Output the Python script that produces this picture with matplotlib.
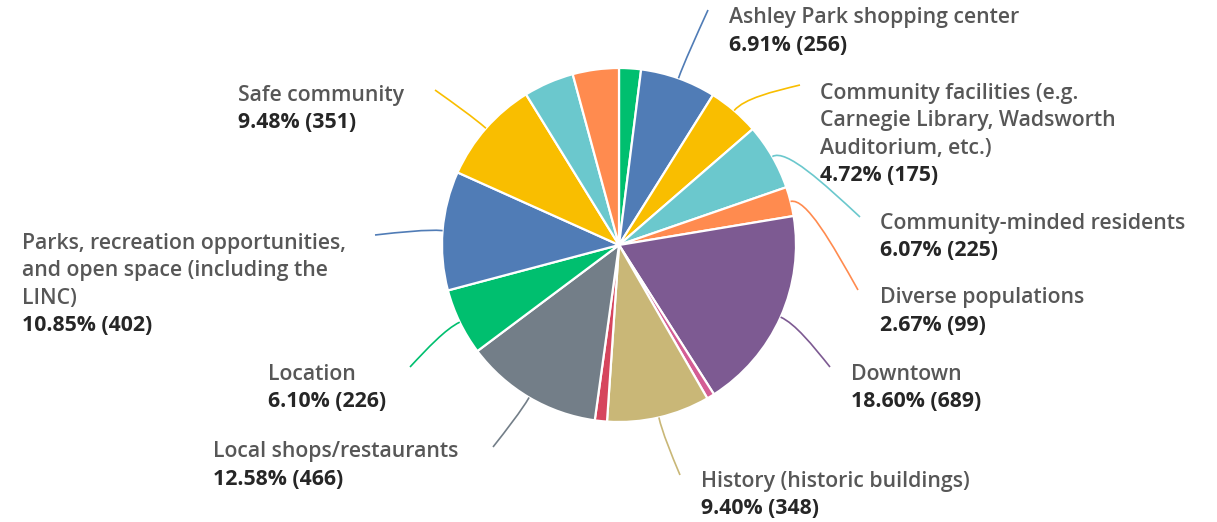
import numpy as np
import matplotlib
matplotlib.use("Agg")
import matplotlib.pyplot as plt
from matplotlib.path import Path
from matplotlib.patches import PathPatch

W, H = 1217, 522

# Survey answers, clockwise from 12 o'clock
categories = [
    "Other A",
    "Ashley Park shopping center",
    "Community facilities (e.g. Carnegie Library, Wadsworth Auditorium, etc.)",
    "Community-minded residents",
    "Diverse populations",
    "Downtown",
    "Other B",
    "History (historic buildings)",
    "Other C",
    "Local shops/restaurants",
    "Location",
    "Parks, recreation opportunities, and open space (including the LINC)",
    "Safe community",
    "Other D",
    "Other E",
]
counts = [74, 256, 175, 225, 99, 689, 26, 348, 41, 466, 226, 402, 351, 170, 156]
colors = ["#00bf6f", "#507cb6", "#f9be00", "#6bc8cd", "#ff8b4f", "#7d5a92",
          "#d45d94", "#c9b777", "#d6455d", "#737e88", "#00bf6f", "#507cb6",
          "#f9be00", "#6bc8cd", "#ff8b4f"]

# Wrapped label text for the labelled slices
label_lines = {
    1: ["Ashley Park shopping center"],
    2: ["Community facilities (e.g.", "Carnegie Library, Wadsworth", "Auditorium, etc.)"],
    3: ["Community-minded residents"],
    4: ["Diverse populations"],
    5: ["Downtown"],
    7: ["History (historic buildings)"],
    9: ["Local shops/restaurants"],
    10: ["Location"],
    11: ["Parks, recreation opportunities,", "and open space (including the", "LINC)"],
    12: ["Safe community"],
}
# label anchor: (x of text, y of first line), leader end point
label_pos = {
    1: (729, 18, (708, 10)),
    2: (820, 93, (800, 85)),
    3: (880, 223, (860, 217)),
    4: (880, 298, (858, 290)),
    5: (851, 374, (830, 367)),
    7: (701, 481, (680, 475)),
    9: (213, 452, (493, 447)),
    10: (268, 374, (410, 367)),
    11: (22, 243, (375, 235)),
    12: (238, 95, (435, 90)),
}

cx, cy, R = 619, 245, 177
line_h = 27.6

fig = plt.figure(figsize=(W / 100, H / 100), dpi=100)
ax = fig.add_axes([0, 0, 1, 1])

ax.pie(counts, colors=colors, startangle=90, counterclock=False,
       center=(cx, H - cy), radius=R,
       wedgeprops=dict(edgecolor="white", linewidth=1.6))
ax.set_xlim(0, W)
ax.set_ylim(0, H)
ax.set_aspect("equal")
ax.axis("off")

total = sum(counts)
cum = np.cumsum([0] + counts)
font = ["Open Sans", "DejaVu Sans"]

for i, lines in label_lines.items():
    mid = (cum[i] + cum[i + 1]) / 2 / total * 2 * np.pi
    dx, dy = np.sin(mid), np.cos(mid)
    p0 = (cx + R * dx, H - (cy - R * dy))
    p1 = (cx + (R + 16) * dx, H - (cy - (R + 16) * dy))
    tx, ty, end = label_pos[i]
    p3 = (end[0], H - end[1])
    p2 = ((p1[0] + p3[0]) / 2, (p1[1] + p3[1]) / 2)
    path = Path([p0, p1, p2, p3], [Path.MOVETO, Path.CURVE4, Path.CURVE4, Path.CURVE4])
    ax.add_patch(PathPatch(path, facecolor="none", edgecolor=colors[i], linewidth=1.2))

    pct = counts[i] / total * 100
    all_lines = lines + [f"{pct:.2f}% ({counts[i]})"]
    for k, txt in enumerate(all_lines):
        is_val = k == len(all_lines) - 1
        ax.text(tx, H - (ty + k * line_h), txt, ha="left", va="center",
                fontsize=15.3, family=font,
                color="#262626" if is_val else "#575757",
                fontweight="bold" if is_val else "semibold")

fig.savefig("out.png", dpi=100, facecolor="white")
